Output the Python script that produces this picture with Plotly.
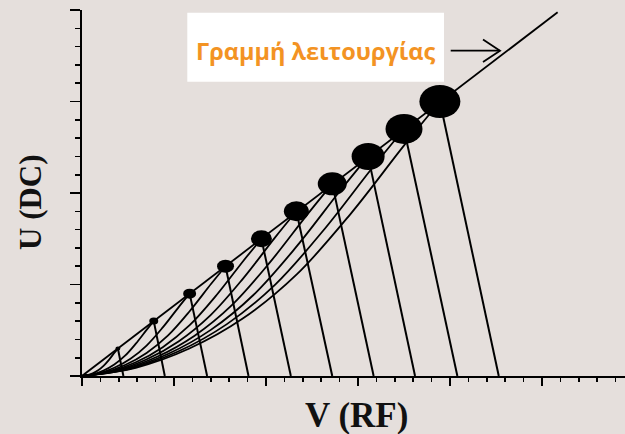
import plotly.graph_objects as go

# ---------------- data ----------------
# apexes of the stability regions (the black dots), on the operating line
dot_x = [0.39, 0.78, 1.17, 1.56, 1.95, 2.33, 2.72, 3.11, 3.50, 3.89]
dot_y = [0.30, 0.60, 0.90, 1.20, 1.50, 1.80, 2.10, 2.40, 2.70, 3.00]
# where the right-hand boundary of each region meets the V axis
foot_x = [0.45, 0.90, 1.36, 1.81, 2.27, 2.72, 3.17, 3.62, 4.08, 4.53]
# operating line end points
op_x = [0.0, 5.17]
op_y = [0.0, 3.975]

# left-hand boundary curves (origin -> apex), estimated points
curve_x = [
    [0, 0.059, 0.117, 0.176, 0.234, 0.293, 0.351, 0.39],
    [0, 0.117, 0.234, 0.351, 0.468, 0.585, 0.702, 0.78],
    [0, 0.176, 0.351, 0.527, 0.702, 0.878, 1.053, 1.17],
    [0, 0.234, 0.468, 0.702, 0.936, 1.17, 1.404, 1.56],
    [0, 0.293, 0.585, 0.878, 1.17, 1.463, 1.755, 1.95],
    [0, 0.350, 0.699, 1.049, 1.398, 1.748, 2.097, 2.33],
    [0, 0.408, 0.816, 1.224, 1.632, 2.04, 2.448, 2.72],
    [0, 0.467, 0.933, 1.40, 1.866, 2.333, 2.799, 3.11],
    [0, 0.525, 1.05, 1.575, 2.10, 2.625, 3.15, 3.50],
    [0, 0.584, 1.167, 1.751, 2.334, 2.918, 3.501, 3.89],
]
curve_y = [
    [0, 0.009, 0.030, 0.063, 0.111, 0.177, 0.252, 0.30],
    [0, 0.018, 0.060, 0.126, 0.222, 0.354, 0.504, 0.60],
    [0, 0.027, 0.090, 0.189, 0.333, 0.531, 0.756, 0.90],
    [0, 0.036, 0.120, 0.252, 0.444, 0.708, 1.008, 1.20],
    [0, 0.045, 0.150, 0.315, 0.555, 0.885, 1.26, 1.50],
    [0, 0.054, 0.180, 0.378, 0.666, 1.062, 1.512, 1.80],
    [0, 0.063, 0.210, 0.441, 0.777, 1.239, 1.764, 2.10],
    [0, 0.072, 0.240, 0.504, 0.888, 1.416, 2.016, 2.40],
    [0, 0.081, 0.270, 0.567, 0.999, 1.593, 2.268, 2.70],
    [0, 0.090, 0.300, 0.630, 1.11, 1.77, 2.52, 3.00],
]

label_text = "Γραμμή λειτουργίας"
x_title = "V (RF)"
y_title = "U (DC)"

# ---------------- styling / layout ----------------
W, H = 625, 434
ML, MR, MT, MB = 82, 0, 10, 58
X_RANGE = [0, 5.902]
Y_RANGE = [0, 4.0]
px_x = (W - ML - MR) / (X_RANGE[1] - X_RANGE[0])
px_y = (H - MT - MB) / (Y_RANGE[1] - Y_RANGE[0])

dot_w_px = [5, 9, 13, 17, 21, 25, 29, 33, 37, 41]
dot_h_px = [4, 7, 10, 13, 17, 20, 23, 27, 30, 33]

BG = "#E5DFDC"
INK = "#000000"

fig = go.Figure()

for cx, cy in zip(curve_x, curve_y):
    fig.add_trace(go.Scatter(x=cx, y=cy, mode="lines",
                             line=dict(color=INK, width=1.8, shape="spline"),
                             hoverinfo="skip", showlegend=False))

# right boundaries
rx, ry = [], []
for dx, dy, fx in zip(dot_x, dot_y, foot_x):
    rx += [dx, fx, None]
    ry += [dy, 0, None]
fig.add_trace(go.Scatter(x=rx, y=ry, mode="lines",
                         line=dict(color=INK, width=2.0),
                         hoverinfo="skip", showlegend=False))

# operating line
fig.add_trace(go.Scatter(x=op_x, y=op_y, mode="lines",
                         line=dict(color=INK, width=1.8),
                         hoverinfo="skip", showlegend=False))

shapes = []
for dx, dy, w, h in zip(dot_x, dot_y, dot_w_px, dot_h_px):
    shapes.append(dict(type="circle", xref="x", yref="y",
                       x0=dx - w / 2 / px_x, x1=dx + w / 2 / px_x,
                       y0=dy - h / 2 / px_y, y1=dy + h / 2 / px_y,
                       fillcolor=INK, line=dict(color=INK, width=0)))

def px2paper(px, py):
    return (px - ML) / (W - ML - MR), (H - MB - py) / (H - MT - MB)

# white label box
bx0, by0 = px2paper(187.3, 81.7)
bx1, by1 = px2paper(444, 12.7)
shapes.append(dict(type="rect", xref="paper", yref="paper",
                   x0=bx0, x1=bx1, y0=by0, y1=by1,
                   fillcolor="white", line=dict(width=0), layer="below"))

# arrow "→"
ax0, ay = px2paper(450.7, 50.7)
ax1, _ = px2paper(500, 50.7)
hx, hy0 = px2paper(483, 39.5)
_, hy1 = px2paper(483, 62)
shapes.append(dict(type="line", xref="paper", yref="paper",
                   x0=ax0, x1=ax1, y0=ay, y1=ay,
                   line=dict(color=INK, width=1.8)))
shapes.append(dict(type="path", xref="paper", yref="paper",
                   path=f"M {hx},{hy0} L {ax1},{ay} L {hx},{hy1}",
                   line=dict(color=INK, width=1.8)))

annotations = []
tx, ty = px2paper(315.7, 51)
annotations.append(dict(text="<b>" + label_text + "</b>", xref="paper", yref="paper",
                        x=tx, y=ty, xanchor="center", yanchor="middle", showarrow=False,
                        font=dict(family="Open Sans", size=23.5, color="#F39323")))
vx, vy = px2paper(356.5, 415)
annotations.append(dict(text="<b>" + x_title + "</b>", xref="paper", yref="paper",
                        x=vx, y=vy, xanchor="center", yanchor="middle", showarrow=False,
                        font=dict(family="Liberation Serif", size=35, color="#111111")))
ux, uy = px2paper(30, 202)
annotations.append(dict(text="<b>" + y_title + "</b>", xref="paper", yref="paper",
                        x=ux, y=uy, xanchor="center", yanchor="middle", showarrow=False,
                        textangle=-90,
                        font=dict(family="Liberation Serif", size=31, color="#111111")))

axis_common = dict(showgrid=False, zeroline=False, showline=True, linecolor=INK,
                   linewidth=2, ticks="outside", tickcolor=INK, tickwidth=1.8,
                   showticklabels=False, dtick=1, tick0=0)

fig.update_layout(
    width=W, height=H,
    margin=dict(l=ML, r=MR, t=MT, b=MB),
    paper_bgcolor=BG, plot_bgcolor=BG,
    xaxis=dict(range=X_RANGE, ticklen=8,
               minor=dict(ticks="outside", ticklen=4, tickwidth=1.6, tickcolor=INK, dtick=0.2),
               **axis_common),
    yaxis=dict(range=Y_RANGE, ticklen=10,
               minor=dict(ticks="outside", ticklen=5, tickwidth=1.6, tickcolor=INK, dtick=0.2),
               **axis_common),
    shapes=shapes,
    annotations=annotations,
    showlegend=False,
)

fig.write_html("out.html", config={"displayModeBar": False, "staticPlot": True},
               post_script="document.body.style.margin='0';document.body.style.overflow='hidden';")
